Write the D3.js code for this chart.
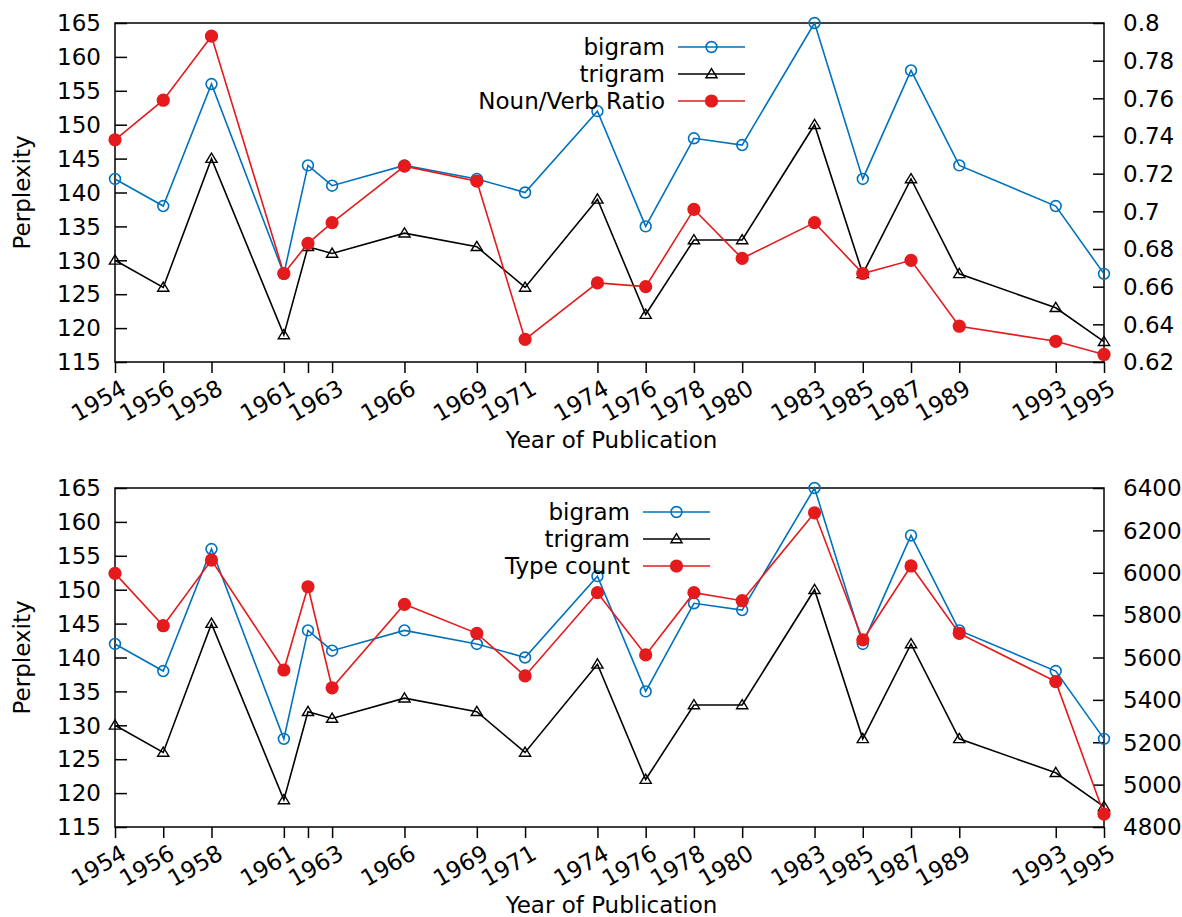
<!DOCTYPE html>
<html>
<head>
<meta charset="utf-8">
<script src="https://cdn.jsdelivr.net/npm/d3@7"></script>
<style>
  body { margin: 0; background: #fff; }
  svg { display: block; font-family: "DejaVu Sans", sans-serif; }
</style>
</head>
<body>
<script>
// data
const years = [1954, 1956, 1958, 1961, 1962, 1963, 1966, 1969, 1971, 1974, 1976, 1978, 1980, 1983, 1985, 1987, 1989, 1993, 1995];
const labeledYears = [1954, 1956, 1958, 1961, 1963, 1966, 1969, 1971, 1974, 1976, 1978, 1980, 1983, 1985, 1987, 1989, 1993, 1995];
const bigram = [142, 138, 156, 128, 144, 141, 144, 142, 140, 152, 135, 148, 147, 165, 142, 158, 144, 138, 128];
const trigram = [130, 126, 145, 119, 132, 131, 134, 132, 126, 139, 122, 133, 133, 150, 128, 142, 128, 123, 118];
const nounVerbRatio = [0.738, 0.759, 0.793, 0.667, 0.683, 0.694, 0.724, 0.716, 0.632, 0.662, 0.660, 0.701, 0.675, 0.694, 0.667, 0.674, 0.639, 0.631, 0.624];
const typeCount = [5997, 5750, 6060, 5541, 5934, 5457, 5851, 5714, 5513, 5906, 5612, 5906, 5868, 6283, 5683, 6032, 5714, 5486, 4861];

const perplexityTicks = [115, 120, 125, 130, 135, 140, 145, 150, 155, 160, 165];
const ratioTicks = [0.62, 0.64, 0.66, 0.68, 0.7, 0.72, 0.74, 0.76, 0.78, 0.8];
const typeTicks = [4800, 5000, 5200, 5400, 5600, 5800, 6000, 6200, 6400];

const BLUE = "#0072bd";
const RED = "#e41a1c";
const FONT = 23;

const width = 1182, height = 917;
const left = 115, right = 1104;

const svg = d3.select("body").append("svg")
  .attr("width", width)
  .attr("height", height);

const x = d3.scaleLinear().domain([1954, 1995]).range([left, right]);

const triPath = "M0,-5.4L5.6,3.8L-5.6,3.8Z";

function drawMarker(g, kind, cx, cy) {
  if (kind === "circle") {
    g.append("circle").attr("cx", cx).attr("cy", cy).attr("r", 5.4)
      .attr("fill", "none").attr("stroke", BLUE).attr("stroke-width", 1.6);
  } else if (kind === "tri") {
    g.append("path").attr("d", triPath)
      .attr("transform", `translate(${cx},${cy})`)
      .attr("fill", "none").attr("stroke", "#000").attr("stroke-width", 1.4);
  } else {
    g.append("circle").attr("cx", cx).attr("cy", cy).attr("r", 6.6)
      .attr("fill", RED);
  }
}

function drawPanel(opt) {
  const top = opt.top, bottom = opt.bottom;
  const g = svg.append("g");

  const y = d3.scaleLinear().domain([115, 165]).range([bottom, top]);
  const y2 = d3.scaleLinear().domain(opt.rightDomain).range([bottom, top]);

  // frame
  g.append("rect")
    .attr("x", left).attr("y", top)
    .attr("width", right - left).attr("height", bottom - top)
    .attr("fill", "none").attr("stroke", "#000").attr("stroke-width", 1.5);

  // left axis (ticks inward)
  const yAxis = g.append("g")
    .attr("transform", `translate(${left},0)`)
    .call(d3.axisRight(y).tickValues(perplexityTicks).tickSize(12).tickFormat(""));
  yAxis.select(".domain").remove();
  yAxis.selectAll(".tick line").attr("stroke-width", 1.5);
  g.append("g").selectAll("text")
    .data(perplexityTicks).join("text")
    .attr("x", left - 14).attr("y", d => y(d))
    .attr("dy", "0.36em")
    .attr("text-anchor", "end")
    .attr("font-size", FONT)
    .text(d => d);

  // right axis (ticks inward)
  const y2Axis = g.append("g")
    .attr("transform", `translate(${right},0)`)
    .call(d3.axisLeft(y2).tickValues(opt.rightTicks).tickSize(11).tickFormat(""));
  y2Axis.select(".domain").remove();
  y2Axis.selectAll(".tick line").attr("stroke-width", 1.5);
  g.append("g").selectAll("text")
    .data(opt.rightTicks).join("text")
    .attr("x", right + 19).attr("y", d => y2(d))
    .attr("dy", "0.36em")
    .attr("font-size", FONT)
    .text(d => String(d));

  // bottom axis (ticks outward)
  const xAxis = g.append("g")
    .attr("transform", `translate(0,${bottom})`)
    .call(d3.axisBottom(x).tickValues(years).tickSize(11).tickFormat(""));
  xAxis.select(".domain").remove();
  xAxis.selectAll(".tick line").attr("stroke-width", 1.5);
  g.append("g").selectAll("text")
    .data(labeledYears).join("text")
    .attr("transform", d => `translate(${x(d) + 13},${bottom + 31}) rotate(-30)`)
    .attr("text-anchor", "end")
    .attr("font-size", FONT)
    .text(d => d);

  // axis titles
  g.append("text")
    .attr("x", (left + right) / 2 + 2).attr("y", bottom + 86)
    .attr("text-anchor", "middle")
    .attr("font-size", FONT)
    .text("Year of Publication");
  g.append("text")
    .attr("transform", `translate(30,${(top + bottom) / 2}) rotate(-90)`)
    .attr("text-anchor", "middle")
    .attr("font-size", FONT)
    .text("Perplexity");

  // series
  const series = [
    { name: "bigram", values: bigram, scale: y, color: BLUE, marker: "circle" },
    { name: "trigram", values: trigram, scale: y, color: "#000", marker: "tri" },
    { name: opt.redLabel, values: opt.redValues, scale: y2, color: RED, marker: "dot" }
  ];

  series.forEach(s => {
    const line = d3.line().x((d, i) => x(years[i])).y(d => s.scale(d));
    g.append("path")
      .datum(s.values)
      .attr("d", line)
      .attr("fill", "none")
      .attr("stroke", s.color)
      .attr("stroke-width", 1.6);
    const mg = g.append("g");
    s.values.forEach((v, i) => drawMarker(mg, s.marker, x(years[i]), s.scale(v)));
  });

  // legend
  const lg = g.append("g");
  series.forEach((s, i) => {
    const ly = opt.legendY + i * 27;
    lg.append("text")
      .attr("x", opt.legendTextX).attr("y", ly)
      .attr("dy", "0.36em")
      .attr("text-anchor", "end")
      .attr("font-size", FONT)
      .text(s.name);
    lg.append("line")
      .attr("x1", opt.legendTextX + 13).attr("x2", opt.legendTextX + 80)
      .attr("y1", ly).attr("y2", ly)
      .attr("stroke", s.color).attr("stroke-width", 1.6);
    drawMarker(lg, s.marker, opt.legendTextX + 46.5, ly);
  });
}

drawPanel({
  top: 23, bottom: 362,
  rightDomain: [0.62, 0.8], rightTicks: ratioTicks,
  redValues: nounVerbRatio, redLabel: "Noun/Verb Ratio",
  legendTextX: 665, legendY: 47
});

drawPanel({
  top: 488, bottom: 827,
  rightDomain: [4800, 6400], rightTicks: typeTicks,
  redValues: typeCount, redLabel: "Type count",
  legendTextX: 630, legendY: 512
});
</script>
</body>
</html>
